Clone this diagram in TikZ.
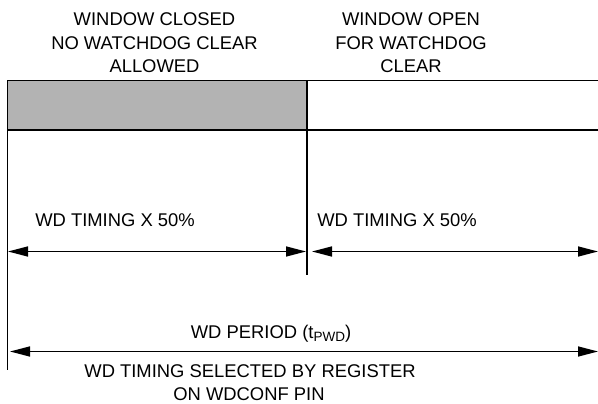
\documentclass[tikz,border=0pt]{standalone}
\usepackage{fontspec}
\setmainfont{Liberation Sans}
\usetikzlibrary{arrows.meta}
\definecolor{closedgray}{HTML}{B3B3B3}
\tikzset{
  lbl/.style={inner sep=0pt, font=\fontsize{18.4}{23.5}\selectfont, align=center},
  edge/.style={line width=1.5pt},
  dim/.style={line width=1.5pt, {Triangle[length=20pt,width=10pt]}-{Triangle[length=20pt,width=10pt]}}
}
\begin{document}
\begin{tikzpicture}[x=1pt,y=-1pt]
\useasboundingbox (0,0) rectangle (598,404);
% frame points
\coordinate (tl) at (7.5,80.5);
\coordinate (tm) at (307,80.5);
\coordinate (tr) at (598,80.5);
\coordinate (bl) at (7.5,130);
\coordinate (bm) at (307,130);
\coordinate (br) at (598,130);
\coordinate (leftend) at (7.5,370);
\coordinate (midend) at (307,275);
% arrow ends
\coordinate (a1l) at (8,251.5);
\coordinate (a1r) at (306,251.5);
\coordinate (a2l) at (312,251.5);
\coordinate (a2r) at (598,251.5);
\coordinate (a3l) at (10,351.5);
\coordinate (a3r) at (598,351.5);

\fill[closedgray] (tl) rectangle (bm);
\draw[edge] (tr) -- (tl) -- (leftend);
\draw[edge] (bl) -- (br);
\draw[edge] (tm) -- (midend);

\draw[dim] (a1l) -- (a1r);
\draw[dim] (a2l) -- (a2r);
\draw[dim] (a3l) -- (a3r);

\node[lbl, anchor=north] (closed) at (154.5,12.7) {WINDOW CLOSED\\NO WATCHDOG CLEAR\\ALLOWED};
\node[lbl, anchor=north] (open) at (411,12.7) {WINDOW OPEN\\FOR WATCHDOG\\CLEAR};
\node[lbl, anchor=base] (half1) at (115,226.7) {WD TIMING X 50\%};
\node[lbl, anchor=base] (half2) at (397,226.7) {WD TIMING X 50\%};
\node[lbl, anchor=base] (period) at (271,338) {WD PERIOD (t\raisebox{-0.35ex}{\fontsize{13.5}{13.5}\selectfont PWD})};
\node[lbl, anchor=base] (sel1) at (250,377) {WD TIMING SELECTED BY REGISTER};
\node[lbl, anchor=base] (sel2) at (249,400.5) {ON WDCONF PIN};
\end{tikzpicture}
\end{document}
